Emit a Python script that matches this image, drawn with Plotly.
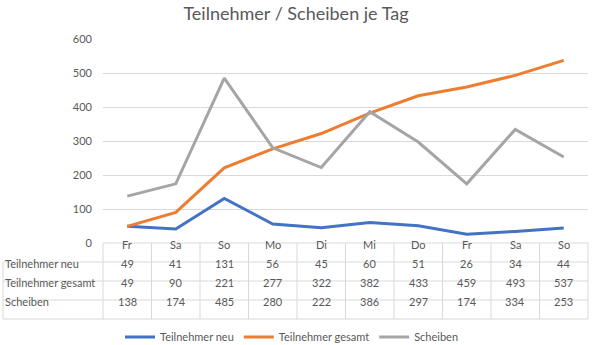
import plotly.graph_objects as go

days = ["Fr", "Sa", "So", "Mo", "Di", "Mi", "Do", "Fr", "Sa", "So"]
teilnehmer_neu = [49, 41, 131, 56, 45, 60, 51, 26, 34, 44]
teilnehmer_gesamt = [49, 90, 221, 277, 322, 382, 433, 459, 493, 537]
scheiben = [138, 174, 485, 280, 222, 386, 297, 174, 334, 253]

series = [
    ("Teilnehmer neu", teilnehmer_neu, "#4472C4"),
    ("Teilnehmer gesamt", teilnehmer_gesamt, "#ED7D31"),
    ("Scheiben", scheiben, "#A5A5A5"),
]

FONT = "Lato"
TXT = "#595959"
GRID = "#D9D9D9"

W, H = 592, 345
L, R, T, B = 103, 4, 39, 102
plot_h = H - T - B  # 204
plot_w = W - L - R  # 485

def py(pix):
    return (H - B - pix) / plot_h

def px(pix):
    return (pix - L) / plot_w

xs = list(range(len(days)))

fig = go.Figure()
for name, vals, col in series:
    fig.add_trace(go.Scatter(x=xs, y=vals, name=name, mode="lines",
                             line=dict(color=col, width=3)))

shapes = []
annotations = []
row_h = 19
top = H - B  # 243
# horizontal lines
shapes.append(dict(type="line", xref="paper", yref="paper", x0=0, x1=1,
                   y0=py(top), y1=py(top), line=dict(color=GRID, width=1)))
for i in range(1, 5):
    yy = py(top + i * row_h)
    shapes.append(dict(type="line", xref="paper", yref="paper", x0=px(3), x1=1,
                       y0=yy, y1=yy, line=dict(color=GRID, width=1)))
# vertical lines
shapes.append(dict(type="line", xref="paper", yref="paper", x0=px(3), x1=px(3),
                   y0=py(top + row_h), y1=py(top + 4 * row_h), line=dict(color=GRID, width=1)))
n = len(days)
for i in range(n + 1):
    xx = i / n
    shapes.append(dict(type="line", xref="paper", yref="paper", x0=xx, x1=xx,
                       y0=py(top), y1=py(top + 4 * row_h), line=dict(color=GRID, width=1)))

# header row
for i, d in enumerate(days):
    annotations.append(dict(x=i, y=py(top + row_h / 2), xref="x", yref="paper", text=d,
                            showarrow=False, font=dict(family=FONT, size=11, color=TXT)))
for r, (name, vals, col) in enumerate(series):
    yc = py(top + row_h * (r + 1) + row_h / 2)
    annotations.append(dict(x=px(3), y=yc, xref="paper", yref="paper", text=name,
                            xanchor="left", showarrow=False,
                            font=dict(family=FONT, size=11, color=TXT)))
    for i, v in enumerate(vals):
        annotations.append(dict(x=i, y=yc, xref="x", yref="paper", text=str(v),
                                showarrow=False, font=dict(family=FONT, size=11, color=TXT)))

fig.update_layout(
    width=W, height=H,
    margin=dict(l=L, r=R, t=T, b=B, autoexpand=False),
    paper_bgcolor="white", plot_bgcolor="white",
    title=dict(text="Teilnehmer / Scheiben je Tag", x=0.5, xanchor="center",
               y=1 - 14 / H, yanchor="middle",
               font=dict(family=FONT, size=18, color=TXT)),
    xaxis=dict(range=[-0.5, n - 0.5], showticklabels=False, showgrid=False,
               zeroline=False, showline=False, fixedrange=True),
    yaxis=dict(range=[0, 600], dtick=100, showgrid=True, gridcolor=GRID, gridwidth=1,
               zeroline=False, showline=False, ticks="", ticklabelstandoff=10,
               tickfont=dict(family=FONT, size=11, color=TXT)),
    legend=dict(orientation="h", xref="container", yref="container",
                x=292 / W, xanchor="center", y=1 - 337 / H, yanchor="middle",
                itemwidth=30,
                font=dict(family=FONT, size=11, color=TXT), bgcolor="rgba(0,0,0,0)"),
    shapes=shapes, annotations=annotations,
    font=dict(family=FONT, color=TXT),
)

fig.write_html("out.html")
